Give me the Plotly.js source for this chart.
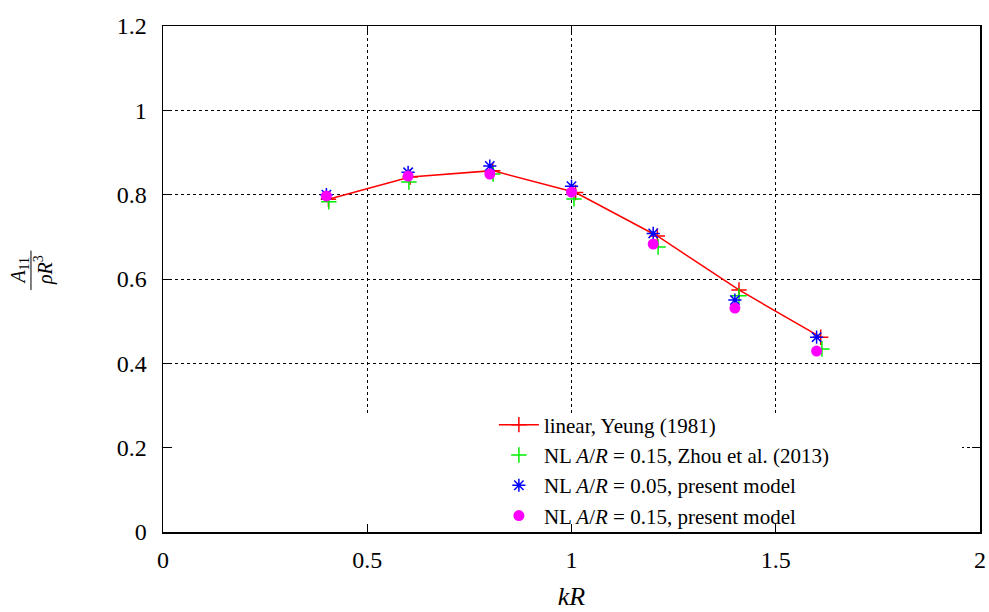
<!DOCTYPE html>
<html>
<head>
<meta charset="utf-8">
<script src="https://cdn.plot.ly/plotly-3.0.1.min.js"></script>
<style>html,body{margin:0;padding:0;background:#fff;}#chart{width:989px;height:612px;}</style>
</head>
<body>
<div id="chart"></div>
<script>
// Data
const xLinear = [0.405, 0.605, 0.807, 1.01, 1.21, 1.41, 1.61];
const yLinear = [0.789, 0.842, 0.857, 0.805, 0.702, 0.574, 0.462];
const xZhou = [0.406, 0.602, 0.808, 1.006, 1.212, 1.41, 1.613];
const yZhou = [0.783, 0.830, 0.849, 0.790, 0.676, 0.560, 0.434];
const xModel05 = [0.4, 0.6, 0.8, 1.0, 1.2, 1.4, 1.6];
const yModel05 = [0.800, 0.853, 0.868, 0.820, 0.708, 0.550, 0.462];
const xModel15 = [0.4, 0.6, 0.8, 1.0, 1.2, 1.4, 1.6];
const yModel15 = [0.797, 0.844, 0.849, 0.806, 0.683, 0.531, 0.429];

const seriesNames = [
  "linear, Yeung (1981)",
  "NL <i>A</i>/<i>R</i> = 0.15, Zhou et al. (2013)",
  "NL <i>A</i>/<i>R</i> = 0.05, present model",
  "NL <i>A</i>/<i>R</i> = 0.15, present model"
];
const xTickVals = [0, 0.5, 1, 1.5, 2];
const xTickText = ["0", "0.5", "1", "1.5", "2"];
const yTickVals = [0, 0.2, 0.4, 0.6, 0.8, 1.0, 1.2];
const yTickText = ["0", "0.2", "0.4", "0.6", "0.8", "1", "1.2"];

const FONT = "Liberation Serif, Times New Roman, serif";

const traces = [
  {x: xLinear, y: yLinear, name: seriesNames[0], mode: "lines+markers",
   line: {color: "#ff0000", width: 1.5},
   marker: {symbol: "cross-thin", size: 11, line: {color: "#ff0000", width: 1.5}}},
  {x: xZhou, y: yZhou, name: seriesNames[1], mode: "markers",
   marker: {symbol: "cross-thin", size: 11, color: "#00ff00", line: {color: "#00ee00", width: 1.5}}},
  {x: xModel05, y: yModel05, name: seriesNames[2], mode: "markers",
   marker: {symbol: "asterisk", size: 11, color: "#0000ff", line: {color: "#0000ff", width: 1.5}}},
  {x: xModel15, y: yModel15, name: seriesNames[3], mode: "markers",
   marker: {symbol: "circle", size: 11, color: "#ff00ff", line: {width: 0}}}
];

const axisCommon = {
  showline: true, linecolor: "#000", linewidth: 1.5, mirror: "ticks",
  ticks: "inside", ticklen: 8, tickcolor: "#000", tickwidth: 1,
  showgrid: true, gridcolor: "#000", gridwidth: 1, griddash: "dot",
  zeroline: false, tickfont: {family: FONT, size: 24, color: "#000"}
};

const layout = {
  width: 989, height: 612,
  margin: {l: 163, r: 9, t: 26, b: 80},
  paper_bgcolor: "#fff", plot_bgcolor: "#fff",
  font: {family: FONT, color: "#000"},
  xaxis: Object.assign({}, axisCommon, {
    range: [0, 2], tickmode: "array", tickvals: xTickVals, ticktext: xTickText,
    ticklabelstandoff: 6,
    title: {text: "<i>kR</i>", font: {family: FONT, size: 26, color: "#000"}, standoff: 14}
  }),
  yaxis: Object.assign({}, axisCommon, {
    range: [0, 1.2], tickmode: "array", tickvals: yTickVals, ticktext: yTickText,
    ticklabelstandoff: 10
  }),
  showlegend: true,
  legend: {
    x: 0.405, y: 0.252, xanchor: "left", yanchor: "top",
    bgcolor: "rgba(255,255,255,0)", borderwidth: 0,
    font: {family: FONT, size: 21, color: "#000"},
    tracegroupgap: 0, itemwidth: 40
  },
  shapes: [
    {type: "rect", xref: "paper", yref: "paper", x0: 0.011, x1: 0.978, y0: 0.017, y1: 0.235,
     fillcolor: "#fff", line: {width: 0}, layer: "above"},
    {type: "line", xref: "paper", yref: "paper", x0: -0.1616, x1: -0.1616, y0: 0.478, y1: 0.556,
     line: {color: "#000", width: 1}}
  ],
  annotations: [
    {xref: "paper", yref: "paper", x: -0.1760, y: 0.517, text: "<i>A</i><sub>11</sub>",
     showarrow: false, textangle: -90, font: {family: FONT, size: 20, color: "#000"},
     xanchor: "center", yanchor: "middle"},
    {xref: "paper", yref: "paper", x: -0.1460, y: 0.517, text: "<i>ρR</i><sup>3</sup>",
     showarrow: false, textangle: -90, font: {family: FONT, size: 20, color: "#000"},
     xanchor: "center", yanchor: "middle"}
  ]
};

Plotly.newPlot("chart", traces, layout, {displayModeBar: false, staticPlot: true});
</script>
</body>
</html>
